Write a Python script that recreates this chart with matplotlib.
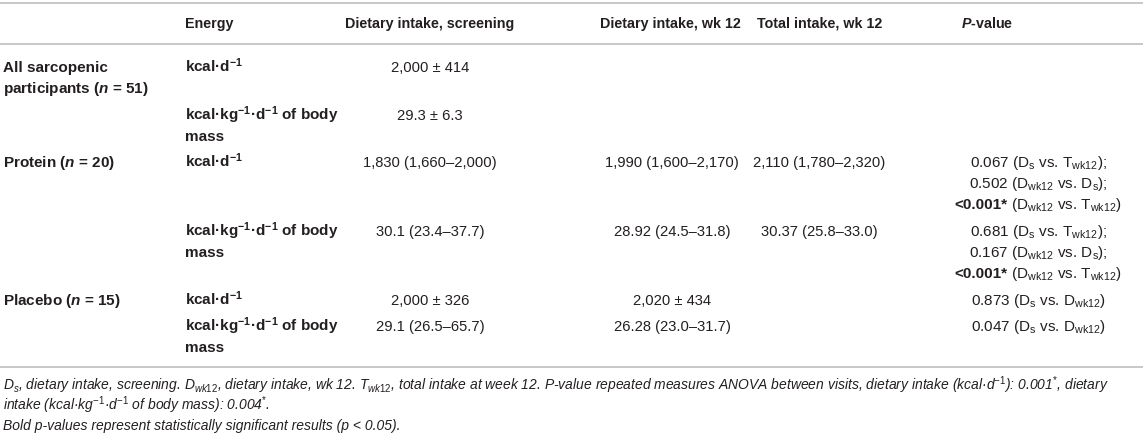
import matplotlib
matplotlib.use("Agg")
import matplotlib.pyplot as plt

plt.rcParams['font.family'] = ['Liberation Sans', 'DejaVu Sans']
plt.rcParams['mathtext.fontset'] = 'custom'
plt.rcParams['mathtext.rm'] = 'Liberation Sans'
plt.rcParams['mathtext.it'] = 'Liberation Sans:italic'
plt.rcParams['mathtext.bf'] = 'Liberation Sans:bold'
plt.rcParams['mathtext.bfit'] = 'Liberation Sans:italic:bold'

TXT = '#231f20'
LINE = '#c4c4c4'

# table content
headers = ['Energy', 'Dietary intake, screening', 'Dietary intake, wk 12',
           'Total intake, wk 12', r'$\mathbfit{P}$-value']
groups = [r'All sarcopenic' + '\n' + r'participants ($\mathbfit{n}$ = 51)',
          r'Protein ($\mathbfit{n}$ = 20)',
          r'Placebo ($\mathbfit{n}$ = 15)']
group_rows = [0, 2, 4]
units = [r'kcal·d$^{\mathbf{-1}}$',
         r'kcal·kg$^{\mathbf{-1}}$·d$^{\mathbf{-1}}$ of body' + '\n' + 'mass']
screening = ['2,000 ± 414', '29.3 ± 6.3', '1,830 (1,660–2,000)',
             '30.1 (23.4–37.7)', '2,000 ± 326', '29.1 (26.5–65.7)']
week12 = ['', '', '1,990 (1,600–2,170)', '28.92 (24.5–31.8)',
          '2,020 ± 434', '26.28 (23.0–31.7)']
total12 = ['', '', '2,110 (1,780–2,320)', '30.37 (25.8–33.0)', '', '']

ds = r'D$_{\rm s}$'
dw = r'D$_{\rm wk12}$'
tw = r'T$_{\rm wk12}$'
pvalues = [
    [],
    [],
    [('', f'0.067 ({ds} vs. {tw});'), ('', f'0.502 ({dw} vs. {ds});'),
     ('<0.001*', f' ({dw} vs. {tw})')],
    [('', f'0.681 ({ds} vs. {tw});'), ('', f'0.167 ({dw} vs. {ds});'),
     ('<0.001*', f' ({dw} vs. {tw})')],
    [('', f'0.873 ({ds} vs. {dw})')],
    [('', f'0.047 ({ds} vs. {dw})')],
]

caption = [
    r'$D_{\mathit{s}}$, dietary intake, screening. $D_{\mathit{wk12}}$, dietary intake, wk 12. '
    r'$T_{\mathit{wk12}}$, total intake at week 12. P-value repeated measures ANOVA between visits, '
    r'dietary intake (kcal·d$^{\mathit{-1}}$): 0.001$^{*}$, dietary',
    r'intake (kcal·kg$^{\mathit{-1}}$·d$^{\mathit{-1}}$ of body mass): 0.004$^{*}$.',
    r'Bold p-values represent statistically significant results (p < 0.05).',
]

# layout (pixels)
W, H = 1143, 438
row_top = [67, 115, 162, 231, 300, 326]
lh = 21
x_group, x_unit = 3, 185
x_cols = [430, 672, 819]
x_head = [430, 670, 820, 987]
x_p = 1038
fs = 11

fig = plt.figure(figsize=(W / 100, H / 100), dpi=100)
ax = fig.add_axes([0, 0, 1, 1])
ax.set_xlim(0, W)
ax.set_ylim(H, 0)
ax.axis('off')
renderer = fig.canvas.get_renderer()

def put(x, y, s, ha='left', weight='normal', style='normal', size=fs):
    return ax.text(x, y + 5, s, ha=ha, va='baseline', color=TXT,
                   fontsize=size, fontweight=weight, fontstyle=style)

def put_lines(x, y, s, **kw):
    for i, line in enumerate(s.split('\n')):
        put(x, y + i * lh, line, **kw)

def put_runs(xc, y, bold, rest):
    parts = []
    if bold:
        parts.append(put(0, y, bold, weight='bold'))
    parts.append(put(0, y, rest))
    widths = [p.get_window_extent(renderer).width for p in parts]
    x = xc - sum(widths) / 2
    for p, w in zip(parts, widths):
        p.set_x(x)
        x += w

for y in [2.5, 44, 367]:
    ax.axhline(y, color=LINE, lw=1.3)

put(x_unit, 23, headers[0], weight='bold', size=10.3)
for xc, h in zip(x_head, headers[1:]):
    put(xc, 23, h, ha='center', weight='bold', size=10.3)

for g, r in zip(groups, group_rows):
    put_lines(x_group, row_top[r], g, weight='bold')

for r in range(len(row_top)):
    put_lines(x_unit, row_top[r], units[r % 2], weight='bold')
    for xc, col in zip(x_cols, [screening, week12, total12]):
        if col[r]:
            put(xc, row_top[r], col[r], ha='center', size=10.6)
    for i, (b, rest) in enumerate(pvalues[r]):
        put_runs(x_p, row_top[r] + i * lh, b, rest)

for i, line in enumerate(caption):
    put(x_group, 385 + i * 20, line, style='italic', size=10)

fig.savefig('out.png', dpi=100)
